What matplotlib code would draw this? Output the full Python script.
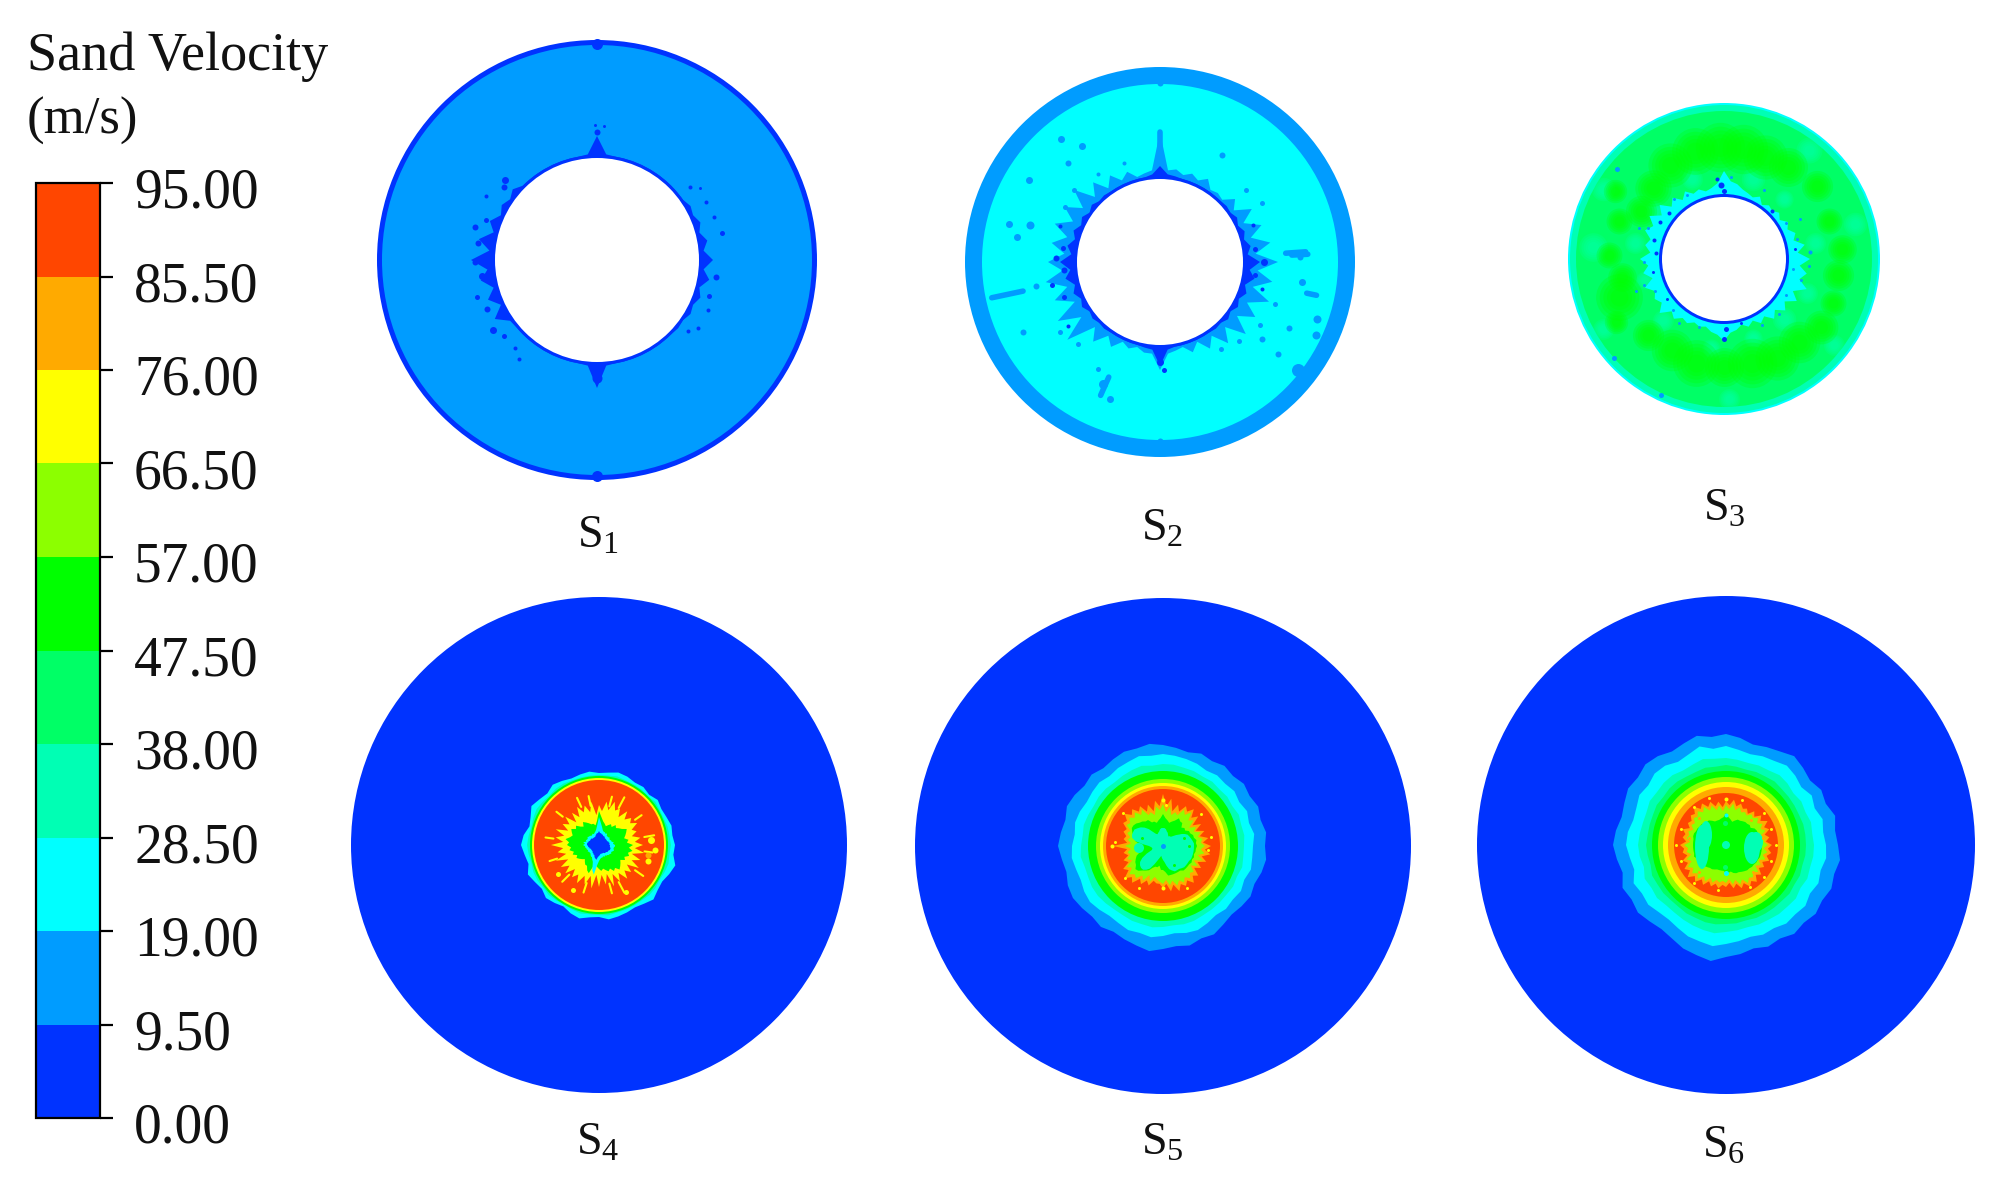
import numpy as np
import matplotlib
matplotlib.use('Agg')
import matplotlib.pyplot as plt
from matplotlib.colors import ListedColormap, BoundaryNorm
from matplotlib.cm import ScalarMappable
from matplotlib.patches import Circle, Ellipse, Polygon
from matplotlib.transforms import ScaledTranslation

plt.rcParams['font.family'] = ['Liberation Serif', 'DejaVu Serif']
plt.rcParams['mathtext.fontset'] = 'custom'
plt.rcParams['mathtext.rm'] = 'Liberation Serif'

# colour scale
levels = [0, 9.5, 19, 28.5, 38, 47.5, 57, 66.5, 76, 85.5, 95]
level_labels = ['0.00', '9.50', '19.00', '28.50', '38.00', '47.50', '57.00', '66.50', '76.00', '85.50', '95.00']
level_colors = ['#0033ff', '#009cff', '#00ffff', '#00ffb4', '#00ff66', '#00ff00',
                '#8cff00', '#ffff00', '#ffaa00', '#ff4600']
cmap = ListedColormap(level_colors)
norm = BoundaryNorm(levels, cmap.N)

names = ['S1', 'S2', 'S3', 'S4', 'S5', 'S6']
centers = {'S1': (597, 260), 'S2': (1160, 262), 'S3': (1724, 259),
           'S4': (599, 845), 'S5': (1163, 846), 'S6': (1726, 845)}
label_pos = {'S1': (598, 536), 'S2': (1162, 529), 'S3': (1724, 509),
             'S4': (598, 1143), 'S5': (1162, 1143), 'S6': (1724, 1146)}
hole = {'S1': 102, 'S2': 83, 'S3': 62}

# plain rings: (outer radius, velocity) from the outside in
s1_rings = [(220, 5), (215, 14)]
s2_rings = [(195, 14), (178, 24)]
s3_rings = [(156, 24), (154, 33), (148, 42)]
s4_rings = [(248, 5)]
s5_rings = [(248, 5), (75, 52), (67, 62), (63, 71), (60, 80), (57, 90)]
s6_rings = [(249, 5), (74, 52), (68, 62), (63, 71), (58, 80), (52, 90)]

# rough band outlines, radius at equal angle steps from east going anticlockwise
s4_rough = {
    24: [76, 74, 75, 73, 72, 74, 71, 73, 72, 74, 75, 73, 72, 74, 73, 72, 74, 76, 73, 75, 78, 74, 72, 76,
         78, 75, 73, 77, 74, 72, 75, 73, 71, 74, 76, 73, 72, 75, 74, 73, 72, 74, 77, 74, 73, 76, 79, 75],
    33: [72, 71, 71, 70, 70, 71, 69, 70, 70, 70, 71, 70, 70, 70, 70, 70, 71, 71, 70, 71, 72, 71, 70, 71,
         72, 71, 70, 71, 71, 70, 71, 70, 69, 70, 71, 70, 70, 71, 70, 70, 70, 70, 71, 71, 70, 71, 72, 71],
}
s4_inner = [(69, 52), (67, 71), (65, 90)]
s5_rough = {
    14: [102, 104, 101, 103, 100, 102, 99, 101, 98, 100, 97, 99, 101, 103, 101, 102, 100, 98, 101, 99, 102, 104, 101, 103,
         105, 102, 100, 103, 104, 102, 100, 102, 99, 101, 103, 106, 103, 101, 103, 100, 102, 99, 97, 99, 101, 99, 102, 104],
    24: [90, 92, 89, 91, 88, 90, 88, 89, 87, 89, 90, 91, 92, 91, 93, 91, 90, 88, 90, 89, 88, 90, 91, 89,
         91, 92, 90, 89, 91, 92, 90, 88, 89, 91, 90, 92, 90, 88, 90, 91, 89, 87, 89, 88, 90, 88, 91, 90],
    33: [81, 82, 81, 82, 80, 81, 80, 81, 80, 81, 81, 82, 82, 81, 83, 82, 81, 80, 81, 81, 80, 81, 82, 81,
         82, 83, 81, 81, 82, 82, 81, 80, 80, 81, 81, 82, 81, 80, 81, 81, 80, 80, 80, 80, 81, 80, 82, 81],
}
s6_rough = {
    14: [112, 110, 113, 108, 110, 106, 109, 112, 108, 106, 104, 108, 111, 109, 113, 110, 108, 112, 114, 111, 113, 110, 108, 111,
         113, 110, 107, 112, 109, 111, 108, 106, 108, 112, 114, 117, 112, 110, 107, 110, 108, 112, 110, 113, 111, 114, 112, 115],
    24: [100, 98, 100, 96, 99, 95, 98, 100, 97, 96, 94, 96, 99, 97, 102, 98, 96, 100, 101, 98, 100, 97, 96, 99,
         100, 97, 95, 100, 97, 98, 95, 94, 96, 99, 100, 102, 99, 97, 95, 97, 96, 99, 98, 100, 97, 100, 98, 101],
    33: [88, 87, 88, 86, 87, 85, 87, 88, 86, 86, 85, 86, 87, 87, 89, 87, 86, 88, 88, 87, 88, 86, 86, 87,
         88, 87, 85, 88, 86, 87, 85, 85, 86, 87, 88, 89, 87, 86, 85, 86, 86, 87, 87, 88, 86, 88, 87, 88],
    43: [80, 80, 80, 79, 79, 79, 79, 80, 79, 79, 78, 79, 80, 79, 80, 79, 79, 80, 80, 79, 80, 79, 79, 79,
         80, 79, 78, 80, 79, 79, 78, 78, 79, 79, 80, 80, 79, 79, 78, 79, 79, 79, 79, 80, 79, 80, 79, 80],
}

# spiky cores, 72 values, 5 degree steps from east going anticlockwise
s4_core = {
    71: [44, 36, 42, 34, 40, 36, 44, 38, 42, 36, 44, 34, 42, 38, 46, 36, 44, 34, 40, 30, 44, 34, 42, 36, 44, 34, 42, 32, 44, 36, 42, 34,
         46, 36, 44, 36, 48, 36, 42, 34, 46, 34, 44, 36, 44, 34, 42, 36, 44, 34, 42, 32, 44, 30, 42, 30, 40, 30, 44, 32, 42, 34, 44, 36, 42, 34,
         46, 36, 44, 34, 46, 36],
    52: [34, 28, 30, 26, 28, 30, 32, 28, 26, 24, 26, 22, 24, 22, 20, 22, 24, 28, 34, 24, 20, 22, 22, 24, 26, 28, 24, 26, 30, 28, 32, 30,
         28, 30, 34, 30, 32, 28, 30, 26, 28, 24, 26, 24, 22, 20, 22, 24, 24, 28, 30, 22, 20, 22, 24, 26, 24, 26, 28, 26, 30, 28, 32, 30, 28, 26,
         30, 28, 32, 30, 34, 30],
    24: [16, 14, 15, 13, 13, 12, 12, 13, 12, 12, 12, 14, 13, 14, 14, 15, 18, 22, 28, 20, 16, 14, 13, 12, 13, 12, 12, 13, 13, 14, 13, 13,
         14, 13, 16, 14, 16, 14, 14, 13, 13, 12, 13, 12, 12, 12, 13, 14, 14, 16, 18, 26, 30, 20, 16, 14, 13, 13, 12, 13, 12, 13, 13, 14, 14, 15,
         14, 15, 16, 15, 15, 16],
    5: [11, 10, 11, 10, 10, 9, 9, 9, 9, 9, 9, 10, 10, 10, 11, 11, 12, 12, 14, 12, 12, 11, 10, 9, 9, 9, 9, 9, 10, 10, 10, 10,
        11, 11, 12, 12, 12, 11, 11, 10, 10, 9, 9, 9, 9, 9, 10, 10, 11, 11, 13, 14, 15, 12, 11, 10, 9, 9, 9, 9, 9, 10, 10, 10, 11, 11,
        11, 12, 12, 12, 11, 11],
}
s5_core = {
    80: [48, 40, 46, 38, 44, 36, 44, 36, 46, 40, 48, 42, 46, 38, 44, 36, 48, 40, 52, 40, 46, 36, 44, 38, 46, 42, 48, 44, 50, 44, 46, 40,
         42, 38, 40, 36, 50, 36, 40, 36, 42, 38, 46, 42, 50, 44, 48, 40, 44, 38, 42, 36, 38, 38, 42, 38, 46, 40, 48, 42, 46, 42, 48, 42, 46, 38,
         44, 38, 46, 40, 48, 42],
    62: [42, 38, 40, 36, 40, 34, 38, 32, 40, 36, 44, 38, 42, 34, 36, 32, 40, 34, 42, 36, 40, 32, 36, 34, 42, 38, 44, 40, 44, 40, 42, 36,
         38, 34, 36, 32, 38, 32, 36, 34, 38, 34, 42, 38, 44, 40, 42, 36, 40, 32, 38, 32, 34, 36, 38, 34, 40, 36, 42, 38, 42, 38, 42, 38, 40, 34,
         40, 34, 42, 36, 42, 38],
    52: [34, 33, 34, 32, 32, 30, 30, 27, 28, 26, 30, 30, 32, 28, 26, 24, 26, 28, 32, 28, 26, 24, 26, 26, 30, 30, 32, 33, 35, 36, 36, 34,
         32, 30, 28, 24, 22, 22, 24, 24, 28, 30, 32, 33, 36, 35, 32, 30, 28, 24, 22, 22, 20, 24, 24, 26, 30, 30, 30, 30, 30, 30, 32, 32, 32, 32,
         33, 32, 33, 32, 33, 33],
    33: [31, 31, 30, 29, 28, 27, 24, 20, 17, 14, 12, 12, 11, 12, 14, 15, 17, 18, 18, 18, 17, 15, 14, 13, 14, 17, 22, 26, 29, 31, 33, 33,
         33, 32, 28, 20, 14, 12, 11, 11, 12, 18, 24, 28, 30, 31, 31, 29, 26, 20, 15, 12, 10, 12, 14, 16, 20, 24, 26, 28, 28, 28, 29, 30, 30, 30,
         30, 31, 31, 31, 31, 31],
}
s6_core = {
    80: [46, 40, 44, 40, 46, 42, 48, 42, 46, 40, 44, 38, 42, 40, 44, 40, 46, 40, 44, 38, 44, 40, 46, 42, 48, 44, 50, 44, 46, 42, 44, 40,
         46, 42, 44, 40, 46, 42, 44, 40, 46, 42, 48, 44, 50, 44, 48, 42, 46, 40, 44, 40, 44, 40, 42, 38, 44, 40, 46, 42, 48, 44, 48, 42, 46, 40,
         44, 40, 46, 42, 46, 42],
    62: [42, 38, 40, 36, 42, 38, 42, 38, 42, 38, 40, 36, 38, 36, 40, 36, 42, 36, 40, 34, 40, 36, 42, 38, 44, 40, 44, 40, 42, 38, 40, 36,
         40, 38, 40, 36, 42, 38, 40, 36, 42, 38, 44, 40, 44, 40, 44, 38, 42, 36, 40, 36, 38, 36, 38, 34, 40, 36, 42, 38, 44, 40, 42, 38, 42, 36,
         40, 36, 42, 38, 42, 38],
    52: [36, 36, 35, 35, 34, 34, 33, 30, 31, 30, 30, 29, 28, 28, 26, 24, 26, 28, 32, 28, 27, 26, 26, 26, 28, 30, 30, 31, 32, 32, 33, 33,
         34, 34, 33, 33, 33, 33, 33, 33, 34, 32, 32, 32, 31, 30, 29, 28, 28, 27, 26, 26, 26, 26, 28, 28, 27, 29, 30, 30, 31, 32, 33, 33, 34, 34,
         35, 35, 36, 36, 36, 36],
}
# teal patches either side of the S6 and S5 centres: (x offset, y offset, width in px, height in px)
s6_patches = [(-24, 2, 14, 44), (-20, -10, 12, 28), (26, 3, 16, 32), (30, -3, 14, 20), (0, 0, 8, 8)]
s5_patches = [(-24, 2, 10, 10), (20, -6, 12, 12), (0, 0, 6, 6)]

# fringes round the holes, 72 values, 5 degree steps
s1_fringe = [116, 107, 112, 106, 110, 106, 108, 105, 105, 105, 105, 105, 105, 105, 105, 105, 105, 106, 124, 106, 105, 105, 105, 105, 105, 105, 105, 105,
             110, 106, 110, 106, 114, 107, 120, 108, 126, 110, 118, 107, 116, 106, 118, 106, 105, 105, 105, 105, 105, 105, 105, 105, 105, 106,
             128, 106, 105, 105, 105, 105, 105, 105, 105, 105, 106, 105, 108, 106, 110, 106, 114, 107]
s2_light = [118, 96, 112, 94, 108, 92, 106, 90, 98, 88, 90, 88, 96, 90, 94, 90, 94, 92, 130, 92, 90, 88, 96, 90, 100, 90, 104, 92,
            112, 94, 110, 96, 112, 96, 110, 96, 112, 98, 116, 96, 112, 94, 118, 96, 121, 92, 104, 90, 98, 88, 92, 88, 92, 92,
            108, 92, 90, 88, 96, 88, 100, 90, 106, 92, 112, 94, 110, 96, 116, 96, 114, 98]
s2_dark = [100, 88, 92, 87, 90, 86, 89, 86, 87, 86, 86, 86, 86, 86, 86, 86, 87, 88, 96, 88, 86, 86, 86, 86, 86, 86, 87, 86,
           89, 86, 90, 87, 92, 88, 94, 89, 100, 90, 96, 88, 92, 87, 90, 86, 88, 86, 87, 86, 86, 86, 86, 86, 87, 88,
           104, 88, 86, 86, 86, 86, 86, 86, 87, 86, 89, 86, 90, 87, 92, 88, 96, 90]
s3_light = [86, 74, 82, 72, 76, 70, 74, 68, 72, 68, 70, 66, 72, 68, 70, 72, 76, 78, 88, 76, 72, 70, 74, 72, 78, 72, 80, 74, 84, 76, 86, 78,
            84, 76, 80, 74, 84, 76, 82, 74, 84, 76, 80, 76, 84, 74, 78, 72, 74, 70, 72, 70, 74, 76, 82, 74, 72, 68, 72, 68, 74, 70, 78, 72,
            80, 74, 84, 76, 88, 78, 84, 76]

# (angle, radius, size px, velocity)
s1_specks = [(139, 122, 7, 5), (142, 118, 6, 5), (150, 128, 4, 5), (160, 118, 5, 5), (165, 126, 6, 5), (172, 120, 6, 5), (181, 122, 6, 5),
             (188, 116, 7, 5), (197, 126, 5, 5), (204, 120, 6, 5), (214, 126, 7, 5), (219, 120, 5, 5), (227, 120, 4, 5), (232, 126, 4, 5),
             (35, 126, 3, 5), (38, 118, 4, 5), (28, 124, 4, 5), (20, 125, 4, 5), (12, 128, 5, 5), (-8, 120, 6, 5), (-18, 118, 5, 5),
             (-24, 122, 4, 5), (-34, 122, 4, 5), (-38, 116, 4, 5), (91, 135, 3, 5), (87, 134, 3, 5), (90, 128, 6, 5), (270, 118, 10, 5)]
s1_notches = [(90, 216, 11, 5), (270, 216, 11, 5)]
s2_specks = [(148, 154, 7, 14), (124, 140, 7, 14), (129, 158, 7, 14), (166, 156, 7, 14), (164, 135, 8, 14), (170, 145, 7, 14),
             (60, 123, 6, 14), (2, 140, 6, 14), (352, 143, 7, 14), (333, 145, 6, 14), (322, 150, 6, 14), (323, 128, 6, 14),
             (245, 135, 9, 14), (250, 146, 7, 14), (207, 154, 6, 14), (191, 126, 6, 14), (133, 135, 6, 14), (240, 124, 5, 14),
             (340, 167, 8, 14), (335, 172, 8, 14), (322, 175, 13, 14), (90, 179, 6, 14), (270, 179, 6, 14),
             (178, 104, 6, 5), (185, 96, 6, 5), (172, 98, 5, 5), (192, 110, 5, 5), (160, 106, 4, 5), (200, 102, 5, 5), (215, 112, 4, 5),
             (0, 104, 7, 5), (8, 96, 5, 5), (352, 96, 5, 5), (22, 100, 4, 5), (345, 106, 4, 5), (270, 100, 7, 5), (272, 108, 5, 5),
             (150, 110, 5, 14), (140, 112, 5, 14), (125, 108, 4, 14), (110, 105, 4, 14), (40, 112, 5, 14), (30, 118, 5, 14), (215, 122, 5, 14),
             (225, 116, 5, 14), (315, 112, 5, 14), (328, 118, 5, 14), (340, 122, 5, 14), (305, 106, 5, 14)]
s2_rays = [(192, 140, 172, 7), (4, 126, 146, 6), (246, 126, 146, 6), (348, 150, 160, 5), (3, 148, 132, 4), (90, 100, 130, 4)]
s3_specks = [(95, 80, 4, 5), (92, 74, 6, 5), (90, 68, 5, 5), (85, 82, 3, 14), (120, 74, 3, 14), (130, 78, 3, 14), (140, 72, 4, 5),
             (150, 74, 4, 5), (158, 82, 3, 14), (165, 72, 4, 5), (175, 68, 4, 5), (182, 80, 3, 14), (190, 72, 3, 5), (198, 84, 3, 14),
             (205, 76, 3, 14), (215, 70, 3, 5), (225, 72, 3, 14), (235, 78, 3, 14), (250, 72, 3, 14), (270, 80, 5, 5), (272, 70, 5, 5),
             (285, 66, 3, 5), (300, 76, 3, 14), (315, 78, 3, 14), (330, 72, 3, 14), (345, 80, 3, 14), (355, 85, 3, 14), (5, 86, 4, 14),
             (15, 76, 3, 14), (30, 72, 3, 14), (45, 68, 4, 5), (60, 80, 3, 14), (140, 140, 5, 14), (222, 148, 5, 14), (245, 150, 5, 14),
             (8, 72, 3, 5), (352, 70, 3, 14), (160, 90, 3, 14), (200, 94, 3, 14), (28, 86, 3, 14)]
# soft patches in S3: (angle, radius, size px)
s3_green = [(120, 108, 34), (105, 112, 36), (92, 112, 38), (80, 112, 38), (68, 110, 34), (55, 112, 30), (135, 100, 28), (150, 96, 24),
            (160, 112, 20), (38, 118, 24), (20, 112, 20), (5, 118, 22), (352, 115, 24), (338, 118, 20), (325, 118, 26),
            (312, 112, 32), (298, 112, 34), (285, 108, 38), (270, 108, 30), (255, 108, 36), (240, 105, 32), (225, 108, 24),
            (200, 112, 36), (190, 104, 22), (178, 115, 20), (148, 128, 18), (210, 125, 18)]
s3_teal = [(112, 86, 16), (70, 85, 18), (45, 85, 14), (145, 84, 16), (170, 90, 16), (10, 92, 16), (338, 90, 16), (315, 85, 18), (290, 84, 14),
           (262, 90, 14), (225, 86, 16), (195, 82, 14), (175, 132, 22), (15, 136, 18), (210, 140, 16), (322, 140, 16), (150, 140, 18), (52, 138, 20), (272, 140, 16)]

# yellow dashes and small specks in the orange core
s4_rays = [(10, 46, 56, 71), (35, 44, 52, 71), (62, 42, 54, 71), (75, 40, 50, 71), (102, 40, 50, 71),
           (115, 42, 52, 71), (142, 46, 54, 71), (172, 46, 54, 71), (198, 44, 52, 71),
           (225, 42, 52, 71), (252, 40, 50, 71), (285, 40, 50, 71), (298, 42, 54, 71),
           (325, 44, 54, 71), (352, 46, 54, 71)]
s4_specks = [(348, 50, 6, 80), (5, 52, 7, 71), (355, 56, 6, 71), (-18, 52, 6, 71), (215, 50, 5, 71), (240, 52, 5, 71), (300, 54, 5, 71)]
s5_specks = [(180, 51, 4, 71), (175, 48, 3, 71), (10, 49, 3, 71), (355, 45, 3, 71), (90, 46, 4, 71), (86, 41, 3, 71), (270, 42, 4, 71), (220, 50, 3, 71),
             (140, 52, 3, 71), (240, 48, 3, 71), (300, 48, 3, 71), (40, 50, 3, 71), (0, 26, 3, 52), (20, 22, 3, 52), (160, 22, 3, 52), (200, 26, 3, 52),
             (120, 20, 3, 52), (60, 20, 3, 52), (300, 22, 3, 52), (0, 0, 5, 14)]
s6_specks = [(0, 50, 3, 71), (20, 48, 3, 71), (40, 50, 3, 71), (70, 48, 3, 71), (90, 46, 4, 71), (110, 50, 3, 71), (130, 50, 3, 71), (160, 48, 3, 71),
             (180, 50, 3, 71), (200, 48, 3, 71), (230, 50, 3, 71), (260, 46, 3, 71), (300, 48, 3, 71), (320, 50, 3, 71), (340, 48, 3, 71),
             (90, 30, 4, 24), (270, 28, 5, 24), (92, 22, 5, 43), (268, 22, 5, 43), (10, 38, 3, 80), (170, 38, 3, 80), (45, 36, 3, 80), (135, 38, 3, 80), (225, 38, 3, 80), (315, 38, 3, 80)]

W, H = 1991, 1179
fig = plt.figure(figsize=(W / 100, H / 100), dpi=100)
ax = fig.add_axes([0, 0, 1, 1])
ax.set_xlim(0, W)
ax.set_ylim(H, 0)
ax.axis('off')


def col(v):
    return cmap(norm(v))


def disc(c, r, v, z=1):
    ax.add_patch(Circle(c, r, fc=col(v), ec='none', zorder=z))


def outline(c, radii, v, z=2):
    radii = np.array(radii, float)
    a = np.linspace(0, 2 * np.pi, len(radii), endpoint=False)
    xy = np.column_stack([c[0] + radii * np.cos(a), c[1] - radii * np.sin(a)])
    ax.add_patch(Polygon(xy, closed=True, fc=col(v), ec='none', zorder=z))


def polar(c, ang, r):
    a = np.deg2rad(ang)
    return c[0] + r * np.cos(a), c[1] - r * np.sin(a)


def specks(c, items, z=4):
    for ang, r, size, v in items:
        x, y = polar(c, ang, r)
        ax.scatter(x, y, s=(size * 0.72) ** 2, color=col(v), linewidths=0, zorder=z)


def rays(c, items, v=None, lw=2.0, z=4):
    for ang, r0, r1, val in items:
        x0, y0 = polar(c, ang, r0)
        x1, y1 = polar(c, ang, r1)
        ax.plot([x0, x1], [y0, y1], color=col(val if v is None else v), lw=lw, solid_capstyle='round', zorder=z)


def soft(c, items, v, z, alpha):
    # stacked sizes so the patch edges fade like the smoothed original
    for ang, r, size in items:
        x, y = polar(c, ang, r)
        for k in (1.3, 1.1, 0.9, 0.7, 0.5):
            ax.scatter(x, y, s=(size * k * 0.72) ** 2, color=col(v), alpha=alpha, linewidths=0, zorder=z)


def bands(c, table, z=2):
    for v, radii in table.items():
        outline(c, radii, v, z)
        z += 0.01


all_rings = {'S1': s1_rings, 'S2': s2_rings, 'S3': s3_rings, 'S4': s4_rings, 'S5': s5_rings, 'S6': s6_rings}
for name in names:
    for i, (r, v) in enumerate(all_rings[name]):
        disc(centers[name], r, v, 3 if name in ('S5', 'S6') and i > 0 else 1)

# S3 soft patches
soft(centers['S3'], s3_teal, 33, 1.6, 0.18)
soft(centers['S3'], s3_green, 50, 1.8, 0.25)

# fringes and holes
outline(centers['S1'], s1_fringe, 5, 3)
outline(centers['S2'], s2_light, 14, 3)
outline(centers['S2'], s2_dark, 5, 3.1)
outline(centers['S3'], s3_light, 24, 3)
specks(centers['S1'], s1_specks)
specks(centers['S1'], s1_notches)
specks(centers['S2'], s2_specks)
rays(centers['S2'], s2_rays, v=14, lw=4.0)
specks(centers['S3'], s3_specks)
for name in ['S1', 'S2', 'S3']:
    disc(centers[name], hole[name] + 3, 5, 5)
    ax.add_patch(Circle(centers[name], hole[name], fc='white', ec='none', zorder=6))

# jet discs
bands(centers['S4'], s4_rough, 2)
for r, v in s4_inner:
    disc(centers['S4'], r, v, 2.5)
rays(centers['S4'], s4_rays, lw=1.5)
specks(centers['S4'], s4_specks)
bands(centers['S4'], s4_core, 5)

bands(centers['S5'], s5_rough, 2)
bands(centers['S5'], s5_core, 4)
specks(centers['S5'], s5_specks, 5)

bands(centers['S6'], s6_rough, 2)
bands(centers['S6'], s6_core, 4)
specks(centers['S6'], s6_specks, 5)
for dx, dy, w, h in s6_patches:
    ax.add_patch(Ellipse((centers['S6'][0] + dx, centers['S6'][1] + dy), w, h, fc=col(33), ec='none', zorder=4.5))
for dx, dy, w, h in s5_patches:
    ax.add_patch(Ellipse((centers['S5'][0] + dx, centers['S5'][1] + dy), w, h, fc=col(33), ec='none', zorder=4.5))

for name in names:
    x, y = label_pos[name]
    ax.text(x, y, r'$\mathregular{S_%s}$' % name[1], fontsize=33, ha='center', va='center', color='#111111')

ax.text(27, 57, 'Sand Velocity', fontsize=39, ha='left', va='center', color='#111111')
ax.text(27, 121, '(m/s)', fontsize=38, ha='left', va='center', color='#111111')

# colour bar
cax = fig.add_axes([36 / W, 1 - 1118 / H, 64 / W, (1118 - 183) / H])
cb = fig.colorbar(ScalarMappable(norm=norm, cmap=cmap), cax=cax, ticks=levels, spacing='uniform')
cb.ax.set_yticklabels(level_labels, fontsize=40, color='#111111')
cb.ax.tick_params(axis='y', length=9.5, width=1.6, color='black', pad=15)
cb.outline.set_linewidth(1.6)
cb.outline.set_edgecolor('black')
cb.minorticks_off()
shift = ScaledTranslation(0, -3.5 / 72, fig.dpi_scale_trans)
for lab in cb.ax.get_yticklabels():
    lab.set_transform(lab.get_transform() + shift)

fig.savefig('out.png', dpi=100)
